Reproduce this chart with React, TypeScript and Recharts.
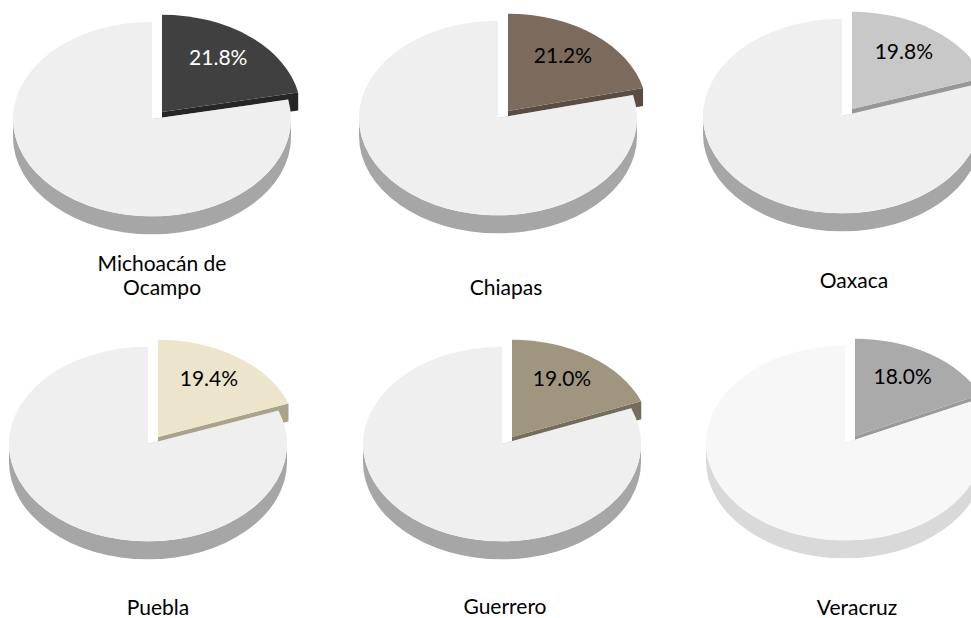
import React from 'react';
import { PieChart, Pie, Cell } from 'recharts';

// share of each state (highlighted slice), rest of the country fills the pie
const STATES = ['Michoacán de Ocampo', 'Chiapas', 'Oaxaca', 'Puebla', 'Guerrero', 'Veracruz'];
const SHARES = [21.8, 21.2, 19.8, 19.4, 19.0, 18.0];
const REST_NAME = 'Resto';

// layout / style
const W = 971;
const H = 618;
const R = 139;
const TILT = 0.7; // vertical squash of the 3D look
const DEPTH = 18;
const EXPLODE_X = 10;
const EXPLODE_Y = 7;
const CENTERS = [
  { cx: 152, cy: 119 },
  { cx: 498, cy: 118 },
  { cx: 842, cy: 116 },
  { cx: 148, cy: 444 },
  { cx: 502, cy: 444 },
  { cx: 845, cy: 443 },
];
const TITLE_POS = [
  { x: 162, y: 251 },
  { x: 506, y: 275 },
  { x: 854, y: 268 },
  { x: 158, y: 595 },
  { x: 505, y: 594 },
  { x: 857, y: 595 },
];
const TOP = ['#404040', '#7c6a5c', '#c8c8c8', '#ece5cb', '#a09680', '#aaaaaa'];
const SIDE = ['#262626', '#5a4c42', '#979797', '#aaa28b', '#756d5b', '#9a9a9a'];
const REST_TOP = ['#efefef', '#efefef', '#efefef', '#efefef', '#efefef', '#f7f7f7'];
const REST_SIDE = ['#a6a6a6', '#a6a6a6', '#a6a6a6', '#a6a6a6', '#a6a6a6', '#d9d9d9'];
const LABEL_COLOR = ['#ffffff', '#000000', '#000000', '#000000', '#000000', '#000000'];
const FONT = 'Lato, "Open Sans", sans-serif';

const rad = (a: number) => (a * Math.PI) / 180;

function pt(cx: number, cy: number, r: number, a: number) {
  return [cx + r * Math.cos(rad(a)), cy - TILT * r * Math.sin(rad(a))];
}

function makeShape(i: number) {
  return (props: any) => {
    const name = props.payload?.name ?? props.name;
    const isRest = name === REST_NAME;
    let cx = props.cx;
    let cy = props.cy;
    const r = props.outerRadius;
    const ry = r * TILT;
    if (!isRest) {
      cx += EXPLODE_X;
      cy -= EXPLODE_Y;
    }
    const hi = Math.max(props.startAngle, props.endAngle);
    const lo = Math.min(props.startAngle, props.endAngle);
    const [x1, y1] = pt(cx, cy, r, hi);
    const [x2, y2] = pt(cx, cy, r, lo);
    const large = hi - lo > 180 ? 1 : 0;
    const top = `M${cx},${cy} L${x1},${y1} A${r},${ry} 0 ${large} 1 ${x2},${y2} Z`;

    const sideColor = isRest ? REST_SIDE[i] : SIDE[i];
    const topColor = isRest ? REST_TOP[i] : TOP[i];

    // radial faces
    const faces = [hi, lo].map((a) => {
      const [x, y] = pt(cx, cy, r, a);
      return `M${cx},${cy} L${x},${y} L${x},${y + DEPTH} L${cx},${cy + DEPTH} Z`;
    });

    // front rim
    let rim = '';
    const fl = Math.max(lo, -180);
    const fh = Math.min(hi, 0);
    if (fl < fh) {
      const [a1, b1] = pt(cx, cy, r, fh);
      const [a2, b2] = pt(cx, cy, r, fl);
      const lg = fh - fl > 180 ? 1 : 0;
      rim = `M${a1},${b1} A${r},${ry} 0 ${lg} 1 ${a2},${b2} L${a2},${b2 + DEPTH} A${r},${ry} 0 ${lg} 0 ${a1},${b1 + DEPTH} Z`;
    }

    return (
      <g>
        {faces.map((d, k) => (
          <path key={k} d={d} fill={sideColor} />
        ))}
        {rim && <path d={rim} fill={sideColor} />}
        <path d={top} fill={topColor} />
      </g>
    );
  };
}

function makeLabel(i: number) {
  return (props: any) => {
    if (props.name === REST_NAME || props.payload?.name === REST_NAME) return null;
    const m = rad(props.midAngle);
    const r = props.outerRadius;
    const x = props.cx + EXPLODE_X + 0.64 * r * Math.cos(m);
    const y = props.cy - EXPLODE_Y - 0.74 * TILT * r * Math.sin(m);
    return (
      <text
        x={x}
        y={y}
        textAnchor="middle"
        dominantBaseline="central"
        fill={LABEL_COLOR[i]}
        fontSize={21}
        fontFamily={FONT}
      >
        {`${Number(props.value).toFixed(1)}%`}
      </text>
    );
  };
}

export default function App() {
  return (
    <div style={{ position: 'absolute', left: 0, top: 0, width: W, height: H, background: '#fff', overflow: 'hidden' }}>
      <PieChart width={W} height={H} margin={{ top: 0, right: 0, bottom: 0, left: 0 }}>
        {STATES.map((state, i) => {
          const data = [
            { name: state, value: SHARES[i] },
            { name: REST_NAME, value: +(100 - SHARES[i]).toFixed(1) },
          ];
          return (
            <Pie
              key={state}
              data={data}
              dataKey="value"
              nameKey="name"
              cx={CENTERS[i].cx}
              cy={CENTERS[i].cy}
              innerRadius={0}
              outerRadius={R}
              startAngle={90}
              endAngle={-270}
              stroke="none"
              isAnimationActive={false}
              labelLine={false}
              label={makeLabel(i)}
              shape={makeShape(i)}
            >
              {data.map((d, k) => (
                <Cell key={k} fill={k === 0 ? TOP[i] : REST_TOP[i]} />
              ))}
            </Pie>
          );
        })}
      </PieChart>
      {STATES.map((state, i) => (
        <div
          key={state}
          style={{
            position: 'absolute',
            left: TITLE_POS[i].x - 80,
            top: TITLE_POS[i].y,
            width: 160,
            textAlign: 'center',
            fontFamily: FONT,
            fontSize: 21,
            lineHeight: '24px',
            color: '#000',
          }}
        >
          {state}
        </div>
      ))}
    </div>
  );
}
